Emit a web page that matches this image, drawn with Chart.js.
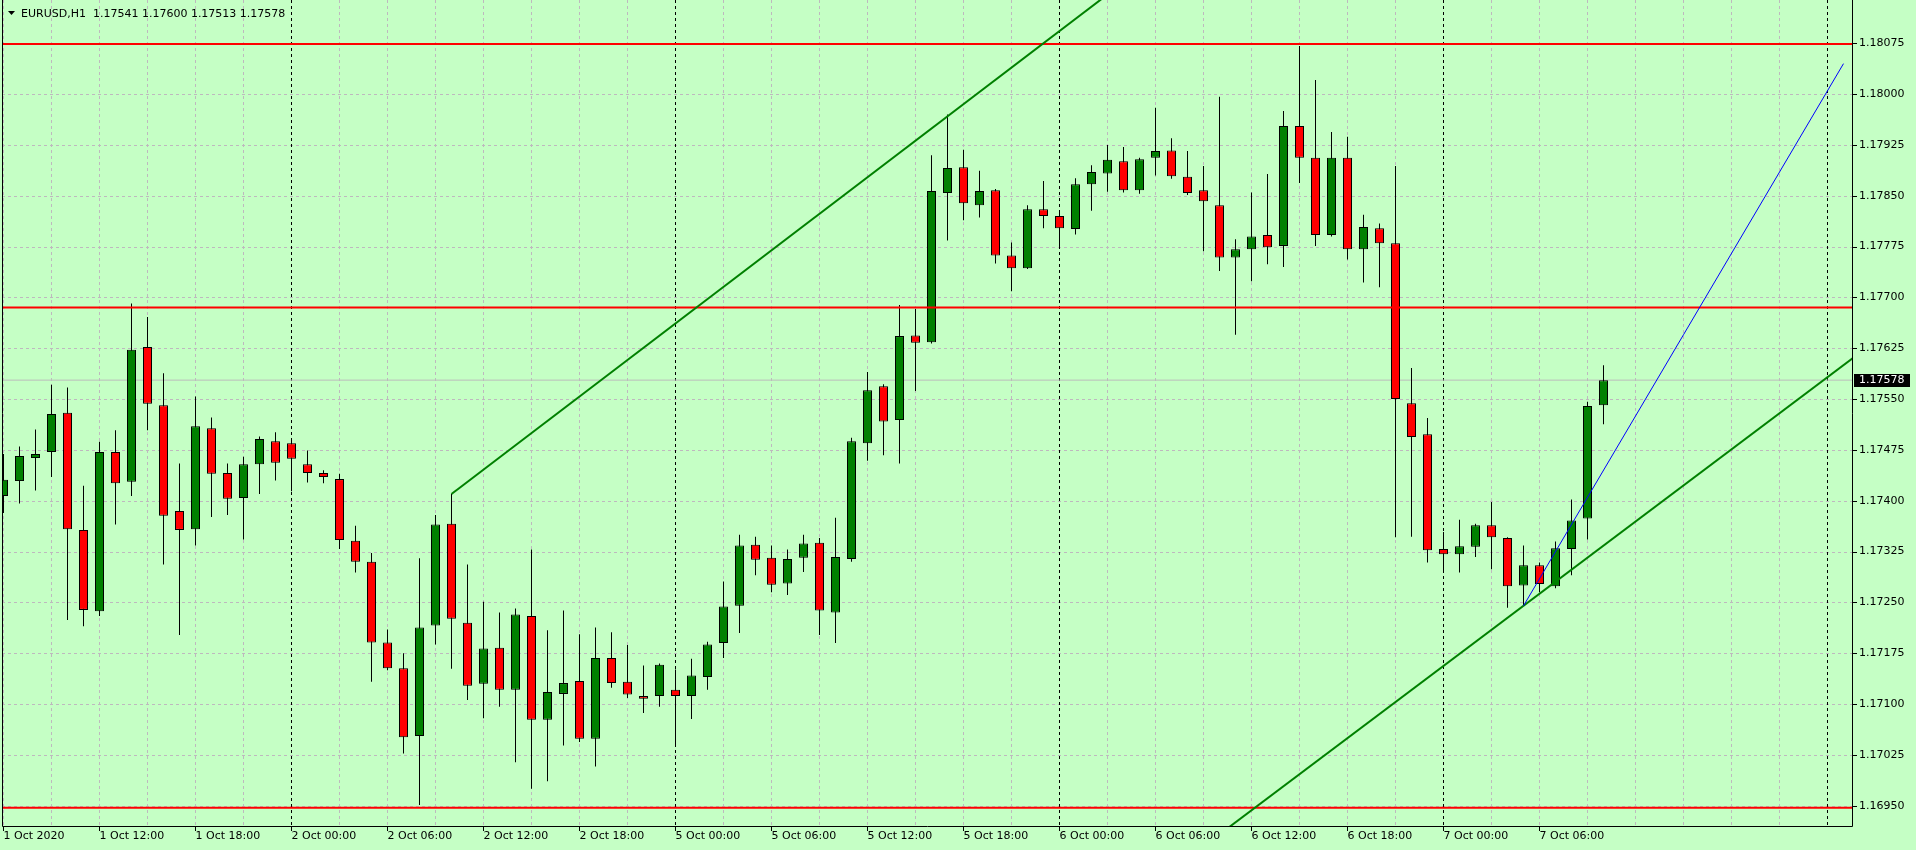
<!DOCTYPE html>
<html>
<head>
<meta charset="utf-8">
<script src="https://cdn.jsdelivr.net/npm/chart.js@4.4.1/dist/chart.umd.min.js"></script>
<style>
html,body{margin:0;padding:0;background:#C5FFC5;overflow:hidden}
#wrap{width:1916px;height:850px;position:relative}
canvas{display:block}
</style>
</head>
<body>
<div id="wrap"><canvas id="c" width="1916" height="850"></canvas></div>
<script>
// ---------- data (EURUSD H1, 1 Oct 06:00 .. 7 Oct 10:00) ----------
const symbolName = "EURUSD,H1";
const opens = [
 1.17407,1.17429,1.17463,1.17472,1.17530,1.17357,1.17237,1.17472,1.17428,1.17627,
 1.17541,1.17385,1.17358,1.17507,1.17441,1.17404,1.17454,1.17488,1.17485,1.17454,
 1.17441,1.17432,1.17341,1.17310,1.17191,1.17153,1.17053,1.17216,1.17366,1.17220,
 1.17130,1.17183,1.17121,1.17230,1.17077,1.17115,1.17134,1.17049,1.17168,1.17133,
 1.17112,1.17112,1.17121,1.17112,1.17140,1.17190,1.17245,1.17335,1.17316,1.17278,
 1.17316,1.17338,1.17235,1.17314,1.17485,1.17569,1.17519,1.17644,1.17634,1.17854,
 1.17892,1.17836,1.17858,1.17762,1.17743,1.17830,1.17820,1.17801,1.17867,1.17883,
 1.17901,1.17858,1.17906,1.17917,1.17878,1.17858,1.17836,1.17759,1.17771,1.17792,
 1.17776,1.17953,1.17906,1.17792,1.17906,1.17771,1.17802,1.17780,1.17544,1.17498,
 1.17329,1.17321,1.17332,1.17364,1.17345,1.17275,1.17305,1.17274,1.17329,1.17374,
 1.17541];
const highs = [
 1.17469,1.17480,1.17505,1.17571,1.17567,1.17422,1.17487,1.17504,1.17691,1.17671,
 1.17588,1.17455,1.17554,1.17523,1.17455,1.17465,1.17495,1.17501,1.17489,1.17474,
 1.17445,1.17440,1.17363,1.17323,1.17210,1.17175,1.17315,1.17379,1.17410,1.17306,
 1.17251,1.17235,1.17241,1.17328,1.17209,1.17238,1.17203,1.17213,1.17206,1.17187,
 1.17157,1.17160,1.17151,1.17167,1.17192,1.17281,1.17350,1.17347,1.17334,1.17328,
 1.17350,1.17345,1.17375,1.17493,1.17590,1.17572,1.17689,1.17683,1.17910,1.17970,
 1.17918,1.17887,1.17860,1.17781,1.17836,1.17872,1.17825,1.17876,1.17895,1.17925,
 1.17922,1.17906,1.17980,1.17935,1.17916,1.17894,1.17996,1.17786,1.17855,1.17882,
 1.17975,1.18071,1.18021,1.17944,1.17937,1.17822,1.17809,1.17894,1.17596,1.17522,
 1.17354,1.17372,1.17366,1.17398,1.17346,1.17334,1.17309,1.17340,1.17402,1.17546,
 1.17600];
const lows = [
 1.17382,1.17396,1.17415,1.17435,1.17224,1.17215,1.17230,1.17365,1.17407,1.17504,
 1.17306,1.17202,1.17334,1.17376,1.17379,1.17343,1.17410,1.17430,1.17414,1.17427,
 1.17426,1.17329,1.17294,1.17133,1.17150,1.17027,1.16951,1.17188,1.17152,1.17106,
 1.17079,1.17096,1.17014,1.16975,1.16986,1.17039,1.17044,1.17008,1.17124,1.17109,
 1.17087,1.17096,1.17041,1.17078,1.17121,1.17168,1.17205,1.17290,1.17265,1.17261,
 1.17295,1.17202,1.17190,1.17310,1.17459,1.17467,1.17455,1.17562,1.17632,1.17784,
 1.17814,1.17818,1.17750,1.17709,1.17742,1.17802,1.17772,1.17793,1.17828,1.17856,
 1.17855,1.17853,1.17880,1.17875,1.17851,1.17768,1.17739,1.17645,1.17724,1.17749,
 1.17745,1.17869,1.17776,1.17790,1.17756,1.17722,1.17715,1.17346,1.17347,1.17309,
 1.17296,1.17294,1.17317,1.17299,1.17242,1.17245,1.17265,1.17271,1.17290,1.17343,
 1.17513];
const closes = [
 1.17431,1.17466,1.17469,1.17528,1.17358,1.17239,1.17472,1.17426,1.17623,1.17543,
 1.17378,1.17357,1.17510,1.17440,1.17403,1.17454,1.17491,1.17456,1.17462,1.17441,
 1.17435,1.17342,1.17310,1.17191,1.17153,1.17051,1.17213,1.17365,1.17226,1.17127,
 1.17182,1.17121,1.17232,1.17077,1.17118,1.17131,1.17049,1.17168,1.17131,1.17114,
 1.17108,1.17158,1.17112,1.17142,1.17188,1.17244,1.17334,1.17313,1.17276,1.17314,
 1.17337,1.17238,1.17317,1.17488,1.17563,1.17517,1.17643,1.17633,1.17857,1.17891,
 1.17839,1.17857,1.17762,1.17743,1.17830,1.17820,1.17802,1.17867,1.17885,1.17903,
 1.17858,1.17904,1.17916,1.17879,1.17854,1.17842,1.17759,1.17771,1.17790,1.17774,
 1.17953,1.17906,1.17792,1.17906,1.17771,1.17804,1.17780,1.17550,1.17494,1.17327,
 1.17321,1.17333,1.17364,1.17346,1.17274,1.17305,1.17277,1.17330,1.17371,1.17540,
 1.17578];

const xTickIndex  = [0,6,12,18,24,30,36,42,48,54,60,66,72,78,84,90,96];
const xTickLabels = ["1 Oct 2020","1 Oct 12:00","1 Oct 18:00","2 Oct 00:00","2 Oct 06:00",
  "2 Oct 12:00","2 Oct 18:00","5 Oct 00:00","5 Oct 06:00","5 Oct 12:00","5 Oct 18:00",
  "6 Oct 00:00","6 Oct 06:00","6 Oct 12:00","6 Oct 18:00","7 Oct 00:00","7 Oct 06:00"];
const daySeparatorIndex = [18,42,66,90,114];
const yTickValues = [1.16950,1.17025,1.17100,1.17175,1.17250,1.17325,1.17400,1.17475,
  1.17550,1.17625,1.17700,1.17775,1.17850,1.17925,1.18000,1.18075];
const redLevels = [1.18074,1.17685,1.16947];
const upperTrend = [[28,1.17410],[70,1.18165]];
const lowerTrend = [[75,1.16890],[116,1.17618]];
const blueTrend  = [[95,1.17245],[115,1.18045]];

// ---------- style ----------
const BG = '#C5FFC5', GRID = '#BEB8BE', BULL = '#008000', BEAR = '#FF0000';
const FONT = {family:'DejaVu Sans', size:11};
const X_MIN = -0.09375, X_MAX = 115.53125;
const Y_MAX = 1.181389, Y_MIN = 1.169201;

const last = closes.length - 1;
const lastPrice = closes[last];

const wickData = highs.map((h,i)=>({x:i, y:[lows[i], h]}));
const bodyData = opens.map((o,i)=>({x:i, y:[o, closes[i]]}));
const bodyColors = opens.map((o,i)=> closes[i] >= o ? BULL : BEAR);
const pts = arr => arr.map(p=>({x:p[0], y:p[1]}));

const lineDs = (data, color, width, order) => ({
  type:'line', data, borderColor:color, borderWidth:width, pointRadius:0,
  tension:0, fill:false, clip:0, order
});

const datasets = [
  {type:'bar', data:bodyData, grouped:false, maxBarThickness:9,
   backgroundColor:bodyColors, borderColor:'#000', borderWidth:1,
   borderSkipped:false, inflateAmount:0, clip:0, order:1},
  {type:'bar', data:wickData, grouped:false, maxBarThickness:1,
   backgroundColor:'#000', borderWidth:0, inflateAmount:0, clip:0, order:2},
  lineDs([{x:-2,y:lastPrice},{x:120,y:lastPrice}], '#BDBDBD', 1, 5),
];
redLevels.forEach(v => datasets.push(lineDs([{x:-2,y:v},{x:120,y:v}], '#FF0000', 2, -1)));
datasets.push(lineDs(pts(upperTrend), '#008000', 2, -2));
datasets.push(lineDs(pts(lowerTrend), '#008000', 2, -2));
datasets.push(lineDs(pts(blueTrend), '#0000FF', 1, -3));

const mt4 = {
  id:'mt4',
  beforeDraw(chart){
    const ctx = chart.ctx;
    ctx.save(); ctx.fillStyle = BG; ctx.fillRect(0,0,chart.width,chart.height); ctx.restore();
  },
  beforeDatasetsDraw(chart){
    const ctx = chart.ctx, a = chart.chartArea, xs = chart.scales.x, ys = chart.scales.y;
    ctx.save();
    ctx.beginPath(); ctx.rect(a.left, a.top, a.right-a.left, a.bottom-a.top); ctx.clip();
    ctx.lineWidth = 1; ctx.setLineDash([3,3]); ctx.strokeStyle = GRID;
    yTickValues.forEach(v => {
      const y = Math.round(ys.getPixelForValue(v)) + 0.5;
      ctx.beginPath(); ctx.moveTo(a.left, y); ctx.lineTo(a.right, y); ctx.stroke();
    });
    for (let i = 0; i <= 116; i += 3) {
      if (daySeparatorIndex.includes(i)) continue;
      const x = Math.floor(xs.getPixelForValue(i)) + 0.5;
      ctx.beginPath(); ctx.moveTo(x, a.top); ctx.lineTo(x, a.bottom); ctx.stroke();
    }
    ctx.strokeStyle = '#000';
    daySeparatorIndex.forEach(i => {
      const x = Math.floor(xs.getPixelForValue(i)) + 0.5;
      ctx.beginPath(); ctx.moveTo(x, a.top); ctx.lineTo(x, a.bottom); ctx.stroke();
    });
    ctx.restore();
  },
  afterDraw(chart){
    const ctx = chart.ctx, a = chart.chartArea, xs = chart.scales.x, ys = chart.scales.y;
    ctx.save();
    ctx.strokeStyle = '#000'; ctx.lineWidth = 1; ctx.setLineDash([]);
    // frame
    ctx.beginPath();
    ctx.moveTo(a.left+0.5, a.top); ctx.lineTo(a.left+0.5, a.bottom+0.5);
    ctx.lineTo(a.right+0.5, a.bottom+0.5); ctx.lineTo(a.right+0.5, a.top);
    ctx.stroke();
    // tick marks
    xTickIndex.forEach(i => {
      const x = Math.floor(xs.getPixelForValue(i)) + 0.5;
      ctx.beginPath(); ctx.moveTo(x, a.bottom+1); ctx.lineTo(x, a.bottom+5); ctx.stroke();
    });
    yTickValues.forEach(v => {
      const y = Math.round(ys.getPixelForValue(v)) + 0.5;
      ctx.beginPath(); ctx.moveTo(a.right+1, y); ctx.lineTo(a.right+5, y); ctx.stroke();
    });
    // current price label
    const py = ys.getPixelForValue(lastPrice);
    ctx.fillStyle = '#000';
    ctx.fillRect(a.right+2, Math.round(py)-6, 56, 13);
    ctx.fillStyle = '#fff';
    ctx.font = '11px "DejaVu Sans"';
    ctx.textBaseline = 'middle'; ctx.textAlign = 'left';
    ctx.fillText(lastPrice.toFixed(5), a.right+7, Math.round(py)+0.5);
    // header
    ctx.fillStyle = '#000';
    ctx.beginPath(); ctx.moveTo(8,11); ctx.lineTo(15,11); ctx.lineTo(11.5,15); ctx.closePath(); ctx.fill();
    ctx.textBaseline = 'alphabetic';
    ctx.fillText(symbolName + "  " + [opens[last],highs[last],lows[last],closes[last]].map(v=>v.toFixed(5)).join(" "), 21, 17);
    ctx.restore();
  }
};

const zeroPad = s => { s.paddingTop = 0; s.paddingBottom = 0; s.paddingLeft = 0; s.paddingRight = 0; };

new Chart(document.getElementById('c'), {
  type:'bar',
  data:{datasets},
  plugins:[mt4],
  options:{
    responsive:false, animation:false, devicePixelRatio:1,
    events:[],
    layout:{padding:{left:2, top:0, right:0, bottom:0}},
    plugins:{legend:{display:false}, tooltip:{enabled:false}},
    scales:{
      x:{type:'linear', position:'bottom', min:X_MIN, max:X_MAX, bounds:'data', offset:false,
         afterBuildTicks: s => { s.ticks = xTickIndex.map(v=>({value:v})); },
         afterFit: s => { s.height = 24; zeroPad(s); },
         grid:{display:false, drawTicks:false}, border:{display:false},
         ticks:{autoSkip:false, maxRotation:0, minRotation:0, align:'start', padding:4,
                color:'#000', font:FONT, callback:(v,idx)=>xTickLabels[idx]}},
      y:{type:'linear', position:'right', min:Y_MIN, max:Y_MAX, bounds:'data',
         afterBuildTicks: s => { s.ticks = yTickValues.map(v=>({value:v})); },
         afterFit: s => { s.width = 64; zeroPad(s); },
         grid:{display:false, drawTicks:false}, border:{display:false},
         ticks:{autoSkip:false, padding:7, color:'#000', font:FONT,
                callback:v=>Number(v).toFixed(5)}}
    }
  }
});
</script>
</body>
</html>
